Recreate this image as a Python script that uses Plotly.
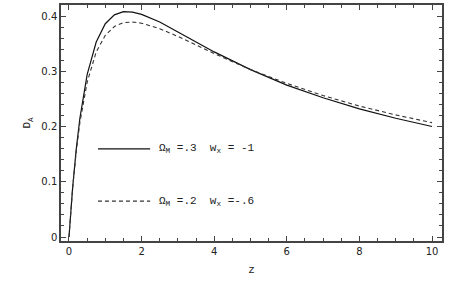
import plotly.graph_objects as go

# Redshift samples
z = [0, 0.1, 0.2, 0.3, 0.5, 0.75, 1, 1.25, 1.5, 1.75, 2, 2.5, 3, 4, 5, 6, 7, 8, 9, 10]
# Omega_M = .3, w_x = -1 (solid)
da_solid = [0, 0.089, 0.159, 0.215, 0.294, 0.353, 0.386, 0.402, 0.408, 0.407, 0.403,
            0.389, 0.371, 0.335, 0.303, 0.275, 0.252, 0.232, 0.215, 0.200]
# Omega_M = .2, w_x = -.6 (dashed)
da_dashed = [0, 0.088, 0.155, 0.207, 0.280, 0.335, 0.365, 0.381, 0.388, 0.389, 0.387,
             0.377, 0.363, 0.332, 0.303, 0.278, 0.256, 0.237, 0.221, 0.207]

x_ticks = [0, 2, 4, 6, 8, 10]
y_ticks = [0, 0.1, 0.2, 0.3, 0.4]
y_tick_labels = ["0", "0.1", "0.2", "0.3", "0.4"]
legend_labels = ["Ω<sub>M</sub> =.3  w<sub>x</sub> = -1", "Ω<sub>M</sub> =.2  w<sub>x</sub> =-.6"]

fig = go.Figure()
fig.add_trace(go.Scatter(x=z, y=da_solid, mode="lines",
                         line=dict(color="#111111", width=1.2), showlegend=False))
fig.add_trace(go.Scatter(x=z, y=da_dashed, mode="lines",
                         line=dict(color="#333333", width=1.1, dash="4px,3px"), showlegend=False))

axis_common = dict(
    showline=True, linecolor="#444444", linewidth=1.5, mirror="ticks",
    ticks="inside", ticklen=5, tickcolor="#444444", tickwidth=1,
    showgrid=False, zeroline=False, automargin=False,
    tickfont=dict(family="DejaVu Sans", size=10, color="#222222"),
)

fig.update_xaxes(range=[-0.22, 10.275], tickvals=x_ticks,
                 minor=dict(ticks="inside", dtick=0.5, tick0=0, ticklen=3, tickcolor="#444444"),
                 title=dict(text="z", font=dict(family="Liberation Mono", size=11, color="#222222"), standoff=10),
                 **axis_common)
fig.update_yaxes(range=[-0.0072, 0.4199], tickvals=y_ticks, ticktext=y_tick_labels,
                 minor=dict(ticks="inside", dtick=0.02, tick0=0, ticklen=3, tickcolor="#444444"),
                 title=dict(text="D<sub>A</sub>", font=dict(family="Liberation Mono", size=11, color="#222222"), standoff=8),
                 **axis_common)

# Legend (drawn inside the plot)
legend_rows = [(0.390, dict(color="#111111", width=1.2)),
               (0.169, dict(color="#333333", width=1.1, dash="4px,3px"))]
for (yp, ln), label in zip(legend_rows, legend_labels):
    fig.add_shape(type="line", xref="paper", yref="paper", x0=0.097, x1=0.234, y0=yp, y1=yp, line=ln)
    fig.add_annotation(xref="paper", yref="paper", x=0.252, y=yp, text=label, showarrow=False,
                       xanchor="left", yanchor="middle",
                       font=dict(family="Liberation Mono", size=11, color="#222222"))

fig.update_layout(width=464, height=287, margin=dict(l=61, r=22, t=5, b=46),
                  paper_bgcolor="white", plot_bgcolor="white")
fig.write_html("out.html", config={"displayModeBar": False},
               post_script="document.body.style.margin='0';")
